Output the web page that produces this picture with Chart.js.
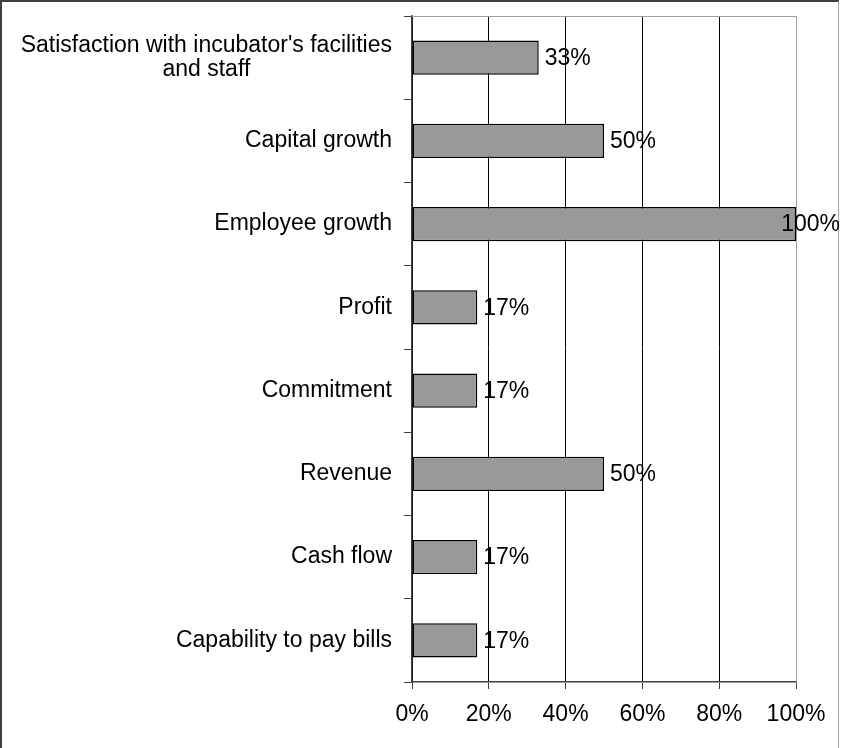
<!DOCTYPE html>
<html>
<head>
<meta charset="utf-8">
<script src="https://cdn.jsdelivr.net/npm/chart.js@4"></script>
<style>
  html, body { margin: 0; padding: 0; background: #fff; }
  #wrap { position: relative; width: 842px; height: 748px; }
</style>
</head>
<body>
<div id="wrap"><canvas id="successChart" width="842" height="748"></canvas></div>
<script>
const categories = [
  ["Satisfaction with incubator's facilities", "and staff"],
  "Capital growth",
  "Employee growth",
  "Profit",
  "Commitment",
  "Revenue",
  "Cash flow",
  "Capability to pay bills"
];
const shares = [33, 50, 100, 17, 17, 50, 17, 17];
const xTicks = [0, 20, 40, 60, 80, 100];

const FAMILY = "'Liberation Sans', Arial, sans-serif";
const FONT = "23px " + FAMILY;

// category names, value labels and frame lines
const extras = {
  id: "extras",
  afterDraw(chart) {
    const ctx = chart.ctx;
    const area = chart.chartArea;
    const y = chart.scales.y;
    ctx.save();

    // plot area outline (top and right)
    ctx.strokeStyle = "#a0a0a0";
    ctx.lineWidth = 1;
    ctx.beginPath();
    ctx.moveTo(area.left, area.top + 0.5);
    ctx.lineTo(area.right + 0.5, area.top + 0.5);
    ctx.lineTo(area.right + 0.5, area.bottom);
    ctx.stroke();

    // outer frame
    ctx.strokeStyle = "#404040";
    ctx.lineWidth = 2;
    ctx.beginPath();
    ctx.moveTo(1, 748);
    ctx.lineTo(1, 1);
    ctx.lineTo(839, 1);
    ctx.stroke();
    ctx.strokeStyle = "#a8a8a8";
    ctx.lineWidth = 1;
    ctx.beginPath();
    ctx.moveTo(838.5, 1);
    ctx.lineTo(838.5, 748);
    ctx.stroke();

    ctx.font = FONT;
    ctx.fillStyle = "#000";
    ctx.textBaseline = "middle";

    // category names, multi-line ones centred on their widest line
    const labelRight = area.left - 20;
    categories.forEach((name, i) => {
      const cy = y.getPixelForValue(i);
      const lines = Array.isArray(name) ? name : [name];
      const widths = lines.map(l => ctx.measureText(l).width);
      const maxW = Math.max(...widths);
      const lh = 24;
      lines.forEach((l, j) => {
        const ly = cy + (j - (lines.length - 1) / 2) * lh;
        ctx.textAlign = "center";
        ctx.fillText(l, labelRight - maxW / 2, ly);
      });
    });

    // value labels at bar ends, kept inside the frame
    const meta = chart.getDatasetMeta(0);
    ctx.textAlign = "left";
    meta.data.forEach((bar, i) => {
      const txt = shares[i] + "%";
      const w = ctx.measureText(txt).width;
      const x = Math.min(bar.x + 6, 840 - w);
      ctx.fillText(txt, x, bar.y + 1);
    });
    ctx.restore();
  }
};

new Chart(document.getElementById("successChart"), {
  type: "bar",
  data: {
    labels: categories,
    datasets: [{
      data: shares,
      backgroundColor: "#999999",
      borderColor: "#000000",
      borderWidth: 1.5,
      borderSkipped: false,
      categoryPercentage: 1,
      barPercentage: 0.41
    }]
  },
  options: {
    indexAxis: "y",
    responsive: false,
    animation: false,
    layout: { padding: { top: 16, right: 46, left: 0, bottom: 0 } },
    plugins: {
      legend: { display: false },
      tooltip: { enabled: false }
    },
    scales: {
      x: {
        min: 0,
        max: 100,
        afterBuildTicks: s => { s.ticks = xTicks.map(v => ({ value: v })); },
        afterFit: s => { s.height = 66; },
        ticks: {
          callback: v => v + "%",
          color: "#000",
          font: { family: FAMILY, size: 23 },
          padding: 12,
          maxRotation: 0
        },
        grid: {
          color: ctx => ctx.tick && ctx.tick.value === 100 ? "#a0a0a0" : "#000000",
          tickColor: "#404040",
          lineWidth: 1,
          tickLength: 7
        },
        border: { color: "#404040", width: 1.5 }
      },
      y: {
        afterFit: s => { s.width = 412; },
        ticks: { display: false },
        grid: {
          drawOnChartArea: false,
          offset: true,
          tickLength: 8,
          color: "#404040"
        },
        border: { color: "#404040", width: 1.5 }
      }
    }
  },
  plugins: [extras]
});
</script>
</body>
</html>
